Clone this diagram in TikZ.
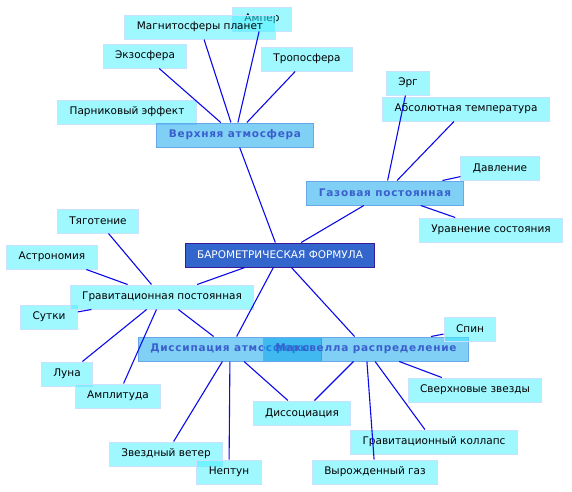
\documentclass[tikz,border=0pt]{standalone}
\usepackage{fontspec}
\setmainfont{DejaVu Sans}
\definecolor{leaffill}{RGB}{65,241,255}
\definecolor{leafline}{RGB}{200,225,255}
\definecolor{topicfill}{RGB}{1,161,235}
\definecolor{topicline}{RGB}{105,168,232}
\definecolor{topictext}{RGB}{58,95,205}
\definecolor{rootfill}{RGB}{51,102,204}
\definecolor{rootline}{RGB}{58,26,153}
\definecolor{linkblue}{RGB}{10,10,235}
\begin{document}
\begin{tikzpicture}[x=1pt,y=-1pt,
    font=\fontsize{10.5}{12}\selectfont,
    leaf/.style={draw=leafline,line width=1pt,fill=leaffill,fill opacity=0.5,text opacity=1,
        inner xsep=12pt,minimum height=24pt},
    topic/.style={draw=topicline,line width=1pt,fill=topicfill,fill opacity=0.5,text opacity=1,
        text=topictext,inner xsep=12pt,minimum height=24pt,
        font=\fontsize{10.5}{12}\selectfont\bfseries\addfontfeature{LetterSpace=7}},
    root/.style={draw=rootline,line width=1pt,fill=rootfill,text=white,
        inner xsep=12pt,minimum height=24pt},
    link/.style={draw=linkblue,line width=1.1pt}]
    \useasboundingbox (0,0) rectangle (572,491);
    % upper atmosphere group
    \node[leaf] (amper) at (262,19) {Ампер};
    \node[leaf] (magnet) at (200,27) {Магнитосферы планет};
    \node[leaf] (exo) at (145,56) {Экзосфера};
    \node[leaf] (tropo) at (307,59) {Тропосфера};
    \node[leaf] (green) at (127,112) {Парниковый эффект};
    \node[topic] (upper) at (235,135) {Верхняя атмосфера};
    % gas constant group
    \node[leaf] (erg) at (408,83) {Эрг};
    \node[leaf] (abstemp) at (466,109) {Абсолютная температура};
    \node[leaf] (press) at (500,168) {Давление};
    \node[topic] (gas) at (385,193) {Газовая постоянная};
    \node[leaf] (state) at (491,230) {Уравнение состояния};
    % centre
    \node[root] (baro) at (280,255) {БАРОМЕТРИЧЕСКАЯ ФОРМУЛА};
    % gravitation group
    \node[leaf] (grav) at (98,221) {Тяготение};
    \node[leaf] (astro) at (52,257) {Астрономия};
    \node[leaf] (sutki) at (49,317) {Сутки};
    \node[leaf] (gconst) at (162,297) {Гравитационная постоянная};
    \node[leaf] (moon) at (67,374) {Луна};
    \node[leaf] (ampl) at (118,396) {Амплитуда};
    % dissipation and Maxwell
    \node[topic] (dissip) at (230,349) {Диссипация атмосферы};
    \node[topic] (maxw) at (366,349) {Максвелла распределение};
    \node[leaf] (spin) at (470,329) {Спин};
    \node[leaf] (super) at (475,390) {Сверхновые звезды};
    \node[leaf] (dissoc) at (302,413) {Диссоциация};
    \node[leaf] (collapse) at (434,442) {Гравитационный коллапс};
    \node[leaf] (wind) at (166,454) {Звездный ветер};
    \node[leaf] (neptune) at (229,472) {Нептун};
    \node[leaf] (degen) at (375,472) {Вырожденный газ};
    % connectors
    \foreach \a/\b in {upper/amper,upper/magnet,upper/exo,upper/tropo,baro/upper,
        gas/erg,gas/abstemp,gas/press,gas/state,baro/gas,
        baro/gconst,baro/dissip,baro/maxw,
        gconst/grav,gconst/astro,gconst/sutki,gconst/moon,gconst/ampl,gconst/dissip,
        dissip/wind,dissip/neptune,dissip/dissoc,
        maxw/spin,maxw/dissoc,maxw/degen,maxw/collapse,maxw/super}
        \draw[link] (\a) -- (\b);
\end{tikzpicture}
\end{document}
